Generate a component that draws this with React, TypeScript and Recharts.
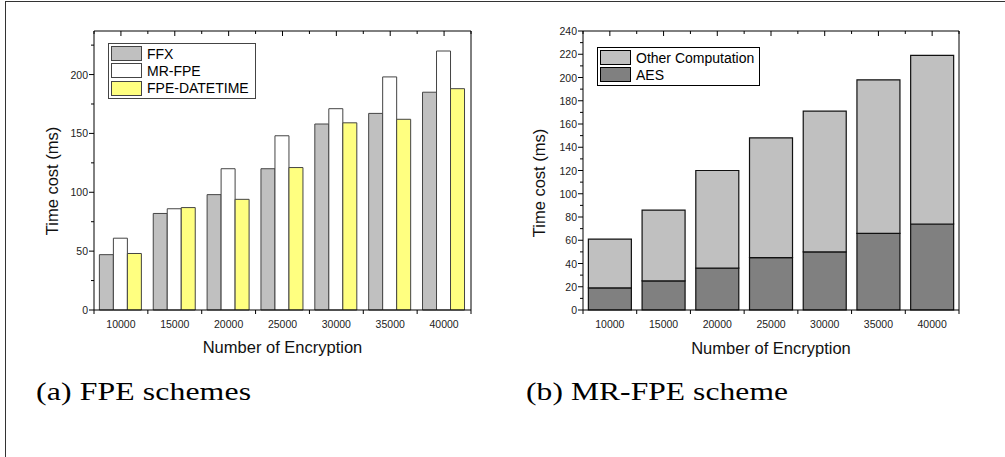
import React from "react";
import { BarChart, Bar, XAxis, YAxis, Legend, Label } from "recharts";

const counts = ["10000", "15000", "20000", "25000", "30000", "35000", "40000"];
const ffx = [47, 82, 98, 120, 158, 167, 185];
const mrFpe = [61, 86, 120, 148, 171, 198, 220];
const fpeDatetime = [48, 87, 94, 121, 159, 162, 188];
const aes = [19, 25, 36, 45, 50, 66, 74];
const otherComputation = [42, 61, 84, 103, 121, 132, 145];
const leftTicks = [0, 25, 50, 75, 100, 125, 150, 175, 200, 225];
const rightTicks = [0, 10, 20, 30, 40, 50, 60, 70, 80, 90, 100, 110, 120, 130, 140, 150, 160, 170, 180, 190, 200, 210, 220, 230, 240];

const schemeData = counts.map((n, i) => ({ n, ffx: ffx[i], mr: mrFpe[i], dt: fpeDatetime[i] }));
const mrData = counts.map((n, i) => ({ n, aes: aes[i], other: otherComputation[i] }));

const sans = "'Liberation Sans', Arial, sans-serif";
const serif = "'Liberation Serif', serif";
const lastCount = counts[counts.length - 1];

// bottom axis: labels at centres, ticks at the category edges
const bottomTick = (band: number) => (props: any) => {
  const { x, y, payload } = props;
  return (
    <g>
      <line x1={x - band / 2} x2={x - band / 2} y1={y} y2={y + 4} stroke="#000" />
      {payload.value === lastCount && (
        <line x1={x + band / 2} x2={x + band / 2} y1={y} y2={y + 4} stroke="#000" />
      )}
      <text x={x} y={y + 14} textAnchor="middle" dominantBaseline="central" fontSize={10.5} fill="#222" fontFamily={sans}>
        {payload.value}
      </text>
    </g>
  );
};

// top axis: inward ticks, no labels
const topTick = (band: number) => (props: any) => {
  const { x, y, payload } = props;
  return (
    <g>
      <line x1={x} x2={x} y1={y} y2={y + 5} stroke="#000" />
      <line x1={x - band / 2} x2={x - band / 2} y1={y} y2={y + 3} stroke="#000" />
      {payload.value === lastCount && (
        <line x1={x + band / 2} x2={x + band / 2} y1={y} y2={y + 3} stroke="#000" />
      )}
    </g>
  );
};

const leftTick = (step: number) => (props: any) => {
  const { x, y, payload } = props;
  const major = payload.value % step === 0;
  return (
    <g>
      <line x1={x - (major ? 5 : 3)} x2={x} y1={y} y2={y} stroke="#000" />
      {major && (
        <text x={x - 6} y={y} textAnchor="end" dominantBaseline="central" fontSize={10.5} fill="#222" fontFamily={sans}>
          {payload.value}
        </text>
      )}
    </g>
  );
};

const rightTick = (step: number) => (props: any) => {
  const { x, y, payload } = props;
  const major = payload.value % step === 0;
  return <line x1={x - (major ? 5 : 3)} x2={x} y1={y} y2={y} stroke="#000" />;
};

const LegendBox = ({ items, width, border }: { items: { name: string; fill: string }[]; width: number; border: string }) => (
  <div
    style={{
      border: `1px solid ${border}`,
      background: "#fff",
      width,
      boxSizing: "border-box",
      padding: "1px 2px",
      fontFamily: sans,
      fontSize: 14,
      color: "#000",
    }}
  >
    {items.map((it) => (
      <div key={it.name} style={{ display: "flex", alignItems: "center", height: 17.3 }}>
        <span
          style={{
            display: "inline-block",
            width: 31,
            height: 15,
            boxSizing: "border-box",
            background: it.fill,
            border: `1px solid ${border}`,
            marginRight: 5,
          }}
        />
        <span style={{ lineHeight: "16px" }}>{it.name}</span>
      </div>
    ))}
  </div>
);

const axisTitle = (x: number, y: number, text: string, vertical: boolean) => () => (
  <text
    x={x}
    y={y}
    textAnchor="middle"
    dominantBaseline="central"
    fontSize={16.5}
    fontFamily={sans}
    fill="#111"
    transform={vertical ? `rotate(-90, ${x}, ${y})` : undefined}
  >
    {text}
  </text>
);

const BAND_L = 377 / 7;
const BAND_R = 376 / 7;

const SchemesChart = () => (
  <BarChart
    width={500}
    height={360}
    data={schemeData}
    margin={{ top: 30, right: 19, left: 54, bottom: 20 }}
    barCategoryGap="10%"
    barGap={0}
  >
    <XAxis xAxisId="b" dataKey="n" height={30} interval={0} tickSize={0} tickMargin={0} axisLine={{ stroke: "#000" }} tick={bottomTick(BAND_L)}>
      <Label content={axisTitle(282.5, 347, "Number of Encryption", false)} />
    </XAxis>
    <XAxis xAxisId="t" dataKey="n" orientation="top" height={1} interval={0} tickSize={0} tickMargin={0} axisLine={{ stroke: "#000" }} tick={topTick(BAND_L)} />
    <YAxis yAxisId="l" type="number" domain={[0, 237]} ticks={leftTicks} interval={0} width={40} tickSize={0} tickMargin={0} axisLine={{ stroke: "#000" }} tick={leftTick(50)}>
      <Label content={axisTitle(51.5, 181, "Time cost (ms)", true)} />
    </YAxis>
    <YAxis yAxisId="r" orientation="right" type="number" domain={[0, 237]} ticks={leftTicks} interval={0} width={10} tickSize={0} tickMargin={0} axisLine={{ stroke: "#000" }} tick={rightTick(50)} />
    <Legend
      layout="vertical"
      align="center"
      verticalAlign="middle"
      wrapperStyle={{ left: 108, top: 43, width: 148 }}
      content={() => (
        <LegendBox
          width={148}
          border="#444"
          items={[
            { name: "FFX", fill: "#c0c0c0" },
            { name: "MR-FPE", fill: "#ffffff" },
            { name: "FPE-DATETIME", fill: "#ffff80" },
          ]}
        />
      )}
    />
    <Bar xAxisId="b" yAxisId="l" dataKey="ffx" name="FFX" fill="#c0c0c0" stroke="#444" strokeWidth={1} isAnimationActive={false} />
    <Bar xAxisId="b" yAxisId="l" dataKey="mr" name="MR-FPE" fill="#ffffff" stroke="#444" strokeWidth={1} isAnimationActive={false} />
    <Bar xAxisId="b" yAxisId="l" dataKey="dt" name="FPE-DATETIME" fill="#ffff80" stroke="#444" strokeWidth={1} isAnimationActive={false} />
  </BarChart>
);

const MrFpeChart = () => (
  <BarChart
    width={505}
    height={360}
    data={mrData}
    margin={{ top: 30, right: 36, left: 43, bottom: 20 }}
    barCategoryGap="10%"
  >
    <XAxis xAxisId="b" dataKey="n" height={30} interval={0} tickSize={0} tickMargin={0} axisLine={{ stroke: "#000" }} tick={bottomTick(BAND_R)}>
      <Label content={axisTitle(271, 347.5, "Number of Encryption", false)} />
    </XAxis>
    <XAxis xAxisId="t" dataKey="n" orientation="top" height={1} interval={0} tickSize={0} tickMargin={0} axisLine={{ stroke: "#000" }} tick={topTick(BAND_R)} />
    <YAxis yAxisId="l" type="number" domain={[0, 240]} ticks={rightTicks} interval={0} width={40} tickSize={0} tickMargin={0} axisLine={{ stroke: "#000" }} tick={leftTick(20)}>
      <Label content={axisTitle(39, 183, "Time cost (ms)", true)} />
    </YAxis>
    <YAxis yAxisId="r" orientation="right" type="number" domain={[0, 240]} ticks={rightTicks} interval={0} width={10} tickSize={0} tickMargin={0} axisLine={{ stroke: "#000" }} tick={rightTick(20)} />
    <Legend
      layout="vertical"
      align="center"
      verticalAlign="middle"
      wrapperStyle={{ left: 97, top: 47, width: 163 }}
      content={() => (
        <LegendBox
          width={163}
          border="#000"
          items={[
            { name: "Other Computation", fill: "#c0c0c0" },
            { name: "AES", fill: "#808080" },
          ]}
        />
      )}
    />
    <Bar xAxisId="b" yAxisId="l" dataKey="aes" name="AES" stackId="s" fill="#808080" stroke="#111" strokeWidth={1.2} isAnimationActive={false} />
    <Bar xAxisId="b" yAxisId="l" dataKey="other" name="Other Computation" stackId="s" fill="#c0c0c0" stroke="#111" strokeWidth={1.2} isAnimationActive={false} />
  </BarChart>
);

// caption stretched horizontally so it takes the width of the original serif face
const Caption = ({ x, width, text, natural }: { x: number; width: number; text: string; natural: number }) => {
  const sx = width / natural;
  return (
    <g transform={`translate(${x}, 400) scale(${sx}, 1)`}>
      <text x={0} y={0} fontFamily={serif} fontSize={26} textLength={natural} lengthAdjust="spacing" fill="#000">
        {text}
      </text>
    </g>
  );
};

export default function App() {
  return (
    <div style={{ position: "absolute", left: 0, top: 0, width: 1005, height: 457, overflow: "hidden", background: "#fff" }}>
      <div
        style={{
          position: "absolute",
          left: 5,
          top: 1,
          width: 1100,
          height: 500,
          borderLeft: "1.5px solid #333",
          borderTop: "1.5px solid #333",
        }}
      />
      <div style={{ position: "absolute", left: 0, top: 0 }}>
        <SchemesChart />
      </div>
      <div style={{ position: "absolute", left: 500, top: 0 }}>
        <MrFpeChart />
      </div>
      <svg width={1005} height={457} style={{ position: "absolute", left: 0, top: 0, pointerEvents: "none" }}>
        <Caption x={36} width={215} natural={176} text="(a) FPE schemes" />
        <Caption x={526} width={262} natural={216} text="(b) MR-FPE scheme" />
      </svg>
    </div>
  );
}
